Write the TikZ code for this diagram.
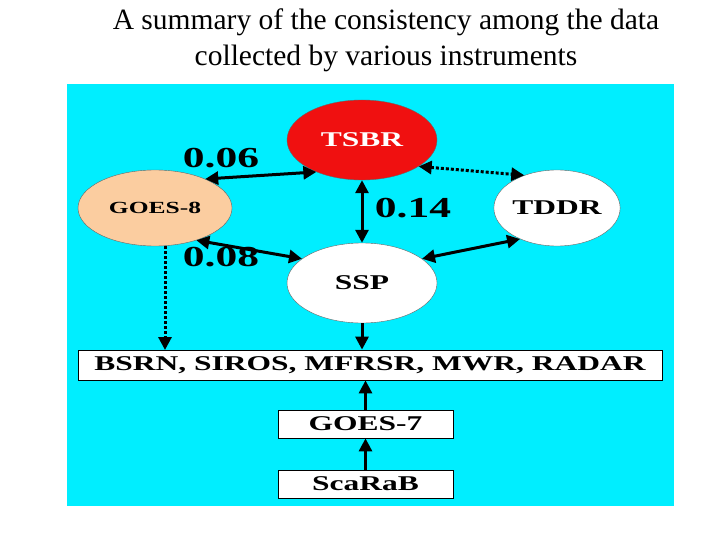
\documentclass[tikz,border=0pt]{standalone}
\usepackage{fontspec}
\setmainfont{Liberation Serif}
\newfontfamily\widefont[FakeStretch=1.5]{Liberation Serif}
\usetikzlibrary{shapes.geometric,arrows.meta}
\definecolor{bgcyan}{RGB}{0,238,255}
\definecolor{peach}{RGB}{251,205,160}
\definecolor{tsbrred}{RGB}{240,16,16}
\tikzset{
  inst/.style={ellipse,draw=black!60,thin,minimum width=150pt,minimum height=80pt,inner sep=0pt,font=\widefont\bfseries\fontsize{21}{21}\selectfont},
  boxnode/.style={rectangle,draw,fill=white,thick,inner sep=0pt,font=\widefont\bfseries\fontsize{21}{21}\selectfont},
  link/.style={{Triangle[length=13pt,width=13pt]}-{Triangle[length=13pt,width=13pt]},line width=3pt},
  flow/.style={-{Triangle[length=13pt,width=13pt]},line width=3pt},
  corr/.style={font=\widefont\bfseries\fontsize{29}{29}\selectfont}
}
\begin{document}
\begin{tikzpicture}[x=1pt,y=-1pt]
  \useasboundingbox (0,0) rectangle (720,540);
  \fill[white] (0,0) rectangle (720,540);
  \node[font=\fontsize{29.5}{36}\selectfont,align=center] (title) at (386,40)
    {A summary of the consistency among the data\\collected by various instruments};
  \fill[bgcyan] (67,84) rectangle (674,506);
  % ellipses
  \node[inst,fill=tsbrred,text=white] (tsbr) at (362,140) {TSBR};
  \node[inst,fill=peach,minimum width=154pt,minimum height=76pt,font=\widefont\bfseries\fontsize{17}{17}\selectfont] (goes8) at (155,208) {GOES-8};
  \node[inst,fill=white,minimum width=124pt,minimum height=76pt] (tddr) at (557,208) {TDDR};
  \node[inst,fill=white] (ssp) at (362,283) {SSP};
  % boxes
  \node[boxnode,minimum width=584pt,minimum height=30pt] (ground) at (370,365) {BSRN, SIROS, MFRSR, MWR, RADAR};
  \node[boxnode,minimum width=175pt,minimum height=28pt] (goes7) at (365.5,424) {GOES-7};
  \node[boxnode,minimum width=175pt,minimum height=28pt] (scarab) at (365.5,484) {ScaRaB};
  % connectors
  \draw[link] (tsbr.215) -- (goes8.30);
  \draw[link] (tsbr.south) -- (ssp.north);
  \draw[link] (goes8.-38) -- (ssp.158);
  \draw[link] (tddr.-140) -- (ssp.22);
  \draw[link,dotted] (tsbr.-25) -- (tddr.135);
  \draw[flow] (ssp.south) -- (ssp.south |- ground.north);
  \draw[flow,dotted] (165,246) -- (165,350);
  \draw[flow] (goes7.north) -- (goes7.north |- ground.south);
  \draw[flow] (scarab.north) -- (goes7.south);
  % labels
  \node[corr] (c1) at (221,158) {0.06};
  \node[corr] (c2) at (413,208) {0.14};
  \node[corr] (c3) at (221,257) {0.08};
\end{tikzpicture}
\end{document}
